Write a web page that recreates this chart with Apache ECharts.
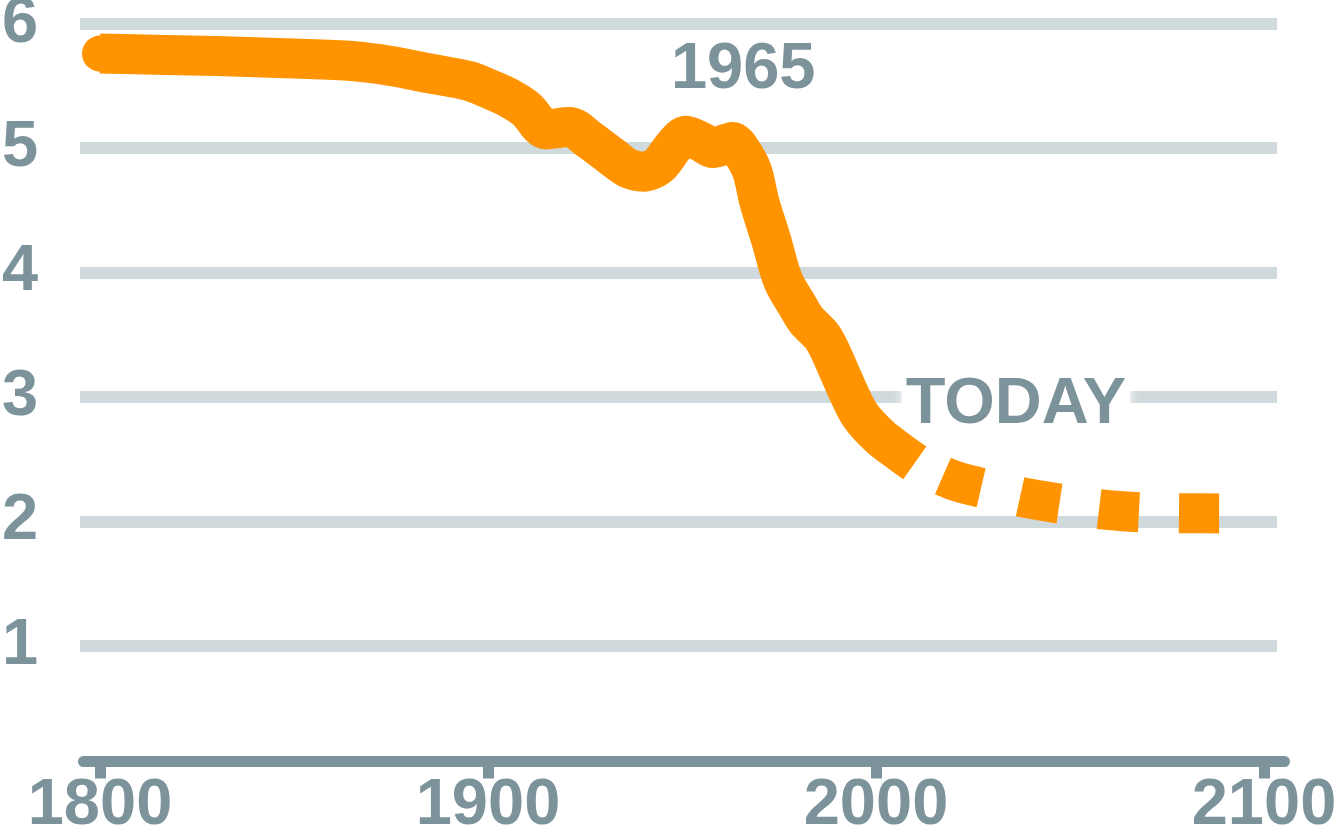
<!DOCTYPE html>
<html><head><meta charset="utf-8">
<script src="https://cdn.jsdelivr.net/npm/echarts@6/dist/echarts.min.js"></script>
<style>html,body{margin:0;padding:0;background:#fff;}#c{width:1340px;height:832px;}</style>
</head><body><div id="c"></div>
<script>
// ---- data ----
const solidYears  = [1800, 1830, 1850, 1865, 1875, 1885, 1895, 1900, 1905, 1910, 1915, 1921, 1926, 1932, 1936, 1940, 1944, 1948, 1951, 1955, 1958, 1961, 1963, 1965, 1968, 1970, 1973, 1976, 1980, 1982, 1986, 1988, 1993, 1996, 2001, 2006, 2010];
const solidValues = [5.76, 5.74, 5.72, 5.70, 5.66, 5.60, 5.54, 5.48, 5.41, 5.31, 5.15, 5.17, 5.07, 4.93, 4.84, 4.81, 4.86, 5.02, 5.10, 5.05, 5.00, 5.03, 5.05, 4.99, 4.82, 4.56, 4.26, 3.94, 3.72, 3.62, 3.49, 3.38, 3.03, 2.85, 2.68, 2.56, 2.47];
const projYears   = [2010, 2020, 2030, 2040, 2050, 2060, 2070, 2080, 2089];
const projValues  = [2.47, 2.33, 2.25, 2.18, 2.13, 2.09, 2.07, 2.065, 2.064];
const xTickYears  = [1800, 1900, 2000, 2100];
const yTickValues = [1, 2, 3, 4, 5, 6];
const noteYears   = [1965, 2010];
const noteTexts   = ['1965', 'TODAY'];

// ---- styling ----
const ORANGE = '#ff9400';
const GREY = '#7d939b';
const GRIDC = '#d0d9dc';
const FONT = "'Liberation Sans', Arial, sans-serif";
const noteStyles = [
  { offset: [3, -79], backgroundColor: 'transparent' },
  { offset: [101, -58], backgroundColor: '#ffffff', shadowColor: '#ffffff', shadowBlur: 10, padding: [0, 4] }
];

function valueAt(year) {
  let i = solidYears.indexOf(year);
  if (i >= 0) return solidValues[i];
  i = projYears.indexOf(year);
  return projValues[i];
}

const solidData = solidYears.map((y, i) => i === 0
  ? { value: [y, solidValues[i]], symbol: 'circle', symbolSize: 36 }
  : { value: [y, solidValues[i]], symbol: 'none' });
const projData = projYears.map((y, i) => [y, projValues[i]]);
const noteData = noteYears.map((y, i) => ({
  value: [y, valueAt(y)],
  label: Object.assign({ show: true, formatter: noteTexts[i], position: 'inside' }, noteStyles[i])
}));

const chart = echarts.init(document.getElementById('c'), null, { renderer: 'canvas' });
chart.setOption({
  animation: false,
  backgroundColor: '#ffffff',
  grid: [
    { left: 80, right: 63, top: 23.7, bottom: 186.3, outerBoundsMode: 'none', containLabel: false },
    { left: 83.5, right: 55.5, top: 23.7, bottom: 70.5, outerBoundsMode: 'none', containLabel: false }
  ],
  xAxis: [
    { gridIndex: 0, type: 'value', min: 1795, max: 2105, show: false },
    {
      gridIndex: 1, type: 'value', min: 1795.75, max: 2105.28,
      axisLine: { show: true, lineStyle: { color: GREY, width: 11, cap: 'round' } },
      axisTick: { show: true, customValues: xTickYears, length: 17, lineStyle: { color: GREY, width: 11 } },
      axisLabel: { show: true, customValues: xTickYears, formatter: v => String(v), color: GREY, fontSize: 65, fontWeight: 'bold', fontFamily: FONT, margin: 12 },
      splitLine: { show: false }
    }
  ],
  yAxis: [
    {
      gridIndex: 0, type: 'value', min: yTickValues[0], max: yTickValues[yTickValues.length - 1], interval: 1,
      axisLine: { show: false }, axisTick: { show: false },
      axisLabel: { color: GREY, fontSize: 65, fontWeight: 'bold', fontFamily: FONT, align: 'left', margin: 78 },
      splitLine: { show: true, lineStyle: { color: GRIDC, width: 12 } }
    },
    { gridIndex: 1, type: 'value', min: 0.07, max: 6, show: false }
  ],
  series: [
    {
      type: 'scatter', xAxisIndex: 1, yAxisIndex: 1, z: 2,
      symbol: 'circle', symbolSize: 0, itemStyle: { color: 'rgba(0,0,0,0)', opacity: 1 },
      label: { color: GREY, fontSize: 65, fontWeight: 'bold', fontFamily: FONT, align: 'center', verticalAlign: 'middle' },
      data: noteData, silent: true
    },
    {
      type: 'line', xAxisIndex: 1, yAxisIndex: 1, z: 3,
      data: solidData, smooth: 0.3, showSymbol: true, showAllSymbol: true, symbol: 'none',
      itemStyle: { color: ORANGE },
      lineStyle: { color: ORANGE, width: 40, cap: 'butt', join: 'round' },
      clip: false, silent: true
    },
    {
      type: 'line', xAxisIndex: 1, yAxisIndex: 1, z: 3,
      data: projData, smooth: 0.3, showSymbol: false, symbol: 'none',
      lineStyle: { color: ORANGE, width: 40, type: [40, 40], dashOffset: 49, cap: 'butt', join: 'round' },
      clip: false, silent: true
    }
  ]
});
</script>
</body></html>
